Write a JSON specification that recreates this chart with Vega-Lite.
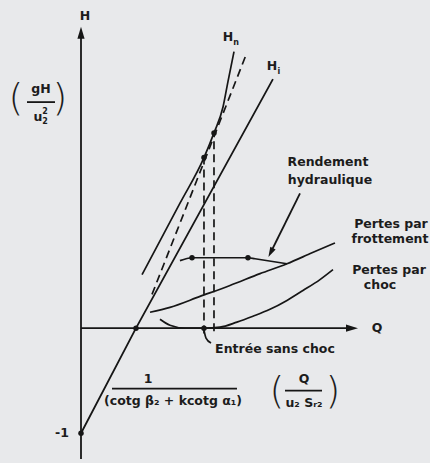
{
  "$schema": "https://vega.github.io/schema/vega-lite/v6.json",
  "width": 430,
  "height": 463,
  "autosize": {"type": "fit", "contains": "padding"},
  "padding": 0,
  "background": "#e8e9eb",
  "config": {"view": {"stroke": null}},
  "datasets": {
    "droites": [
      {"id": "axe H", "o": 1, "q": 0, "h": -1.245},
      {"id": "axe H", "o": 2, "q": 0, "h": 2.811},
      {"id": "axe Q", "o": 1, "q": 0, "h": 0},
      {"id": "axe Q", "o": 2, "q": 4.927, "h": 0},
      {"id": "Hi", "o": 1, "q": 0, "h": -1},
      {"id": "Hi", "o": 2, "q": 1, "h": 0},
      {"id": "Hi", "o": 3, "q": 3.49, "h": 2.37},
      {"id": "barre 1/(cotg)", "o": 1, "q": 0.564, "h": -0.575},
      {"id": "barre 1/(cotg)", "o": 2, "q": 2.836, "h": -0.575},
      {"id": "barre Q/uS", "o": 1, "q": 3.709, "h": -0.594},
      {"id": "barre Q/uS", "o": 2, "q": 4.382, "h": -0.594},
      {"id": "barre gH/u2", "o": 1, "q": -0.982, "h": 2.151},
      {"id": "barre gH/u2", "o": 2, "q": -0.473, "h": 2.151},
      {"id": "fleche rendement", "o": 1, "q": 3.982, "h": 1.283},
      {"id": "fleche rendement", "o": 2, "q": 3.449, "h": 0.72}
    ],
    "courbes": [
      {"id": "Hn", "o": 1, "q": 1.109, "h": 0.509},
      {"id": "Hn", "o": 2, "q": 1.436, "h": 0.83},
      {"id": "Hn", "o": 3, "q": 1.8, "h": 1.189},
      {"id": "Hn", "o": 4, "q": 2.236, "h": 1.623},
      {"id": "Hn", "o": 5, "q": 2.418, "h": 1.858},
      {"id": "Hn", "o": 6, "q": 2.582, "h": 2.104},
      {"id": "Hn", "o": 7, "q": 2.673, "h": 2.349},
      {"id": "Hn", "o": 8, "q": 2.782, "h": 2.632},
      {"id": "frottement", "o": 1, "q": 1.255, "h": 0.151},
      {"id": "frottement", "o": 2, "q": 1.618, "h": 0.198},
      {"id": "frottement", "o": 3, "q": 2.164, "h": 0.302},
      {"id": "frottement", "o": 4, "q": 2.709, "h": 0.406},
      {"id": "frottement", "o": 5, "q": 3.255, "h": 0.519},
      {"id": "frottement", "o": 6, "q": 3.745, "h": 0.613},
      {"id": "frottement", "o": 7, "q": 4.2, "h": 0.717},
      {"id": "frottement", "o": 8, "q": 4.618, "h": 0.811},
      {"id": "rendement", "o": 1, "q": 1.8, "h": 0.642},
      {"id": "rendement", "o": 2, "q": 2.018, "h": 0.67},
      {"id": "rendement", "o": 3, "q": 3.036, "h": 0.67},
      {"id": "rendement", "o": 4, "q": 3.164, "h": 0.66},
      {"id": "rendement", "o": 5, "q": 3.745, "h": 0.613},
      {"id": "choc", "o": 1, "q": 1.436, "h": 0.085},
      {"id": "choc", "o": 2, "q": 1.618, "h": 0.028},
      {"id": "choc", "o": 3, "q": 1.891, "h": 0.0},
      {"id": "choc", "o": 4, "q": 2.236, "h": 0.0},
      {"id": "choc", "o": 5, "q": 2.527, "h": 0.009},
      {"id": "choc", "o": 6, "q": 2.836, "h": 0.057},
      {"id": "choc", "o": 7, "q": 3.127, "h": 0.113},
      {"id": "choc", "o": 8, "q": 3.436, "h": 0.179},
      {"id": "choc", "o": 9, "q": 3.745, "h": 0.264},
      {"id": "choc", "o": 10, "q": 4.036, "h": 0.358},
      {"id": "choc", "o": 11, "q": 4.345, "h": 0.462},
      {"id": "choc", "o": 12, "q": 4.582, "h": 0.557},
      {"id": "renvoi entree", "o": 1, "q": 2.236, "h": -0.019},
      {"id": "renvoi entree", "o": 2, "q": 2.273, "h": -0.094},
      {"id": "renvoi entree", "o": 3, "q": 2.364, "h": -0.142}
    ],
    "tirets": [
      {"id": "tangente", "o": 1, "q": 1.291, "h": 0.321},
      {"id": "tangente", "o": 2, "q": 3.018, "h": 2.623},
      {"id": "sans choc", "o": 1, "q": 2.236, "h": -0.05},
      {"id": "sans choc", "o": 2, "q": 2.236, "h": 1.623},
      {"id": "optimum", "o": 1, "q": 2.418, "h": -0.03},
      {"id": "optimum", "o": 2, "q": 2.418, "h": 1.858}
    ],
    "points": [
      {"id": "H = -1", "q": 0, "h": -1},
      {"id": "Hi = 0", "q": 1, "h": 0},
      {"id": "entree sans choc", "q": 2.236, "h": 0},
      {"id": "Hn sans choc", "q": 2.236, "h": 1.623},
      {"id": "Hn optimum", "q": 2.418, "h": 1.858},
      {"id": "rendement a", "q": 2.018, "h": 0.67},
      {"id": "rendement b", "q": 3.036, "h": 0.67}
    ],
    "fleches": [
      {"id": "axe H", "q": 0, "h": 2.811},
      {"id": "axe Q", "q": 4.927, "h": 0},
      {"id": "rendement", "q": 3.449, "h": 0.72}
    ],
    "textes": [
      {"t": "H", "q": 0.073, "h": 2.972},
      {"t": "Q", "q": 5.382, "h": 0},
      {"t": "-1", "q": -0.345, "h": -1.0},
      {"t": "H", "q": 2.673, "h": 2.774},
      {"t": "H", "q": 3.473, "h": 2.491},
      {"t": "Rendement", "q": 4.491, "h": 1.585},
      {"t": "hydraulique", "q": 4.527, "h": 1.406},
      {"t": "Pertes par", "q": 5.636, "h": 0.991},
      {"t": "frottement", "q": 5.618, "h": 0.849},
      {"t": "Pertes par", "q": 5.6, "h": 0.557},
      {"t": "choc", "q": 5.436, "h": 0.406},
      {"t": "Entrée sans choc", "q": 3.527, "h": -0.198},
      {"t": "1", "q": 1.218, "h": -0.481},
      {"t": "(cotg β₂ + kcotg α₁)", "q": 1.673, "h": -0.698},
      {"t": "Q", "q": 4.055, "h": -0.481},
      {"t": "u₂ Sᵣ₂", "q": 4.055, "h": -0.717},
      {"t": "gH", "q": -0.727, "h": 2.274},
      {"t": "u", "q": -0.782, "h": 2.009}
    ],
    "indices": [
      {"t": "n", "q": 2.82, "h": 2.717},
      {"t": "i", "q": 3.6, "h": 2.434},
      {"t": "2", "q": -0.655, "h": 2.057},
      {"t": "2", "q": -0.655, "h": 1.962}
    ],
    "parentheses": [
      {"t": "(", "q": -1.182, "h": 2.179},
      {"t": ")", "q": -0.382, "h": 2.179},
      {"t": "(", "q": 3.564, "h": -0.604},
      {"t": ")", "q": 4.582, "h": -0.604}
    ]
  },
  "encoding": {
    "x": {"field": "q", "type": "quantitative", "scale": {"domain": [-1.4727, 6.3455], "nice": false, "zero": false}, "axis": null},
    "y": {"field": "h", "type": "quantitative", "scale": {"domain": [-1.2453, 3.1226], "nice": false, "zero": false}, "axis": null}
  },
  "layer": [
    {
      "data": {"name": "droites"},
      "mark": {"type": "line", "color": "#161616", "strokeWidth": 1.8},
      "encoding": {"detail": {"field": "id"}, "order": {"field": "o", "type": "quantitative"}}
    },
    {
      "data": {"name": "courbes"},
      "mark": {"type": "line", "color": "#161616", "strokeWidth": 1.7, "interpolate": "monotone"},
      "encoding": {"detail": {"field": "id"}, "order": {"field": "o", "type": "quantitative"}}
    },
    {
      "data": {"name": "tirets"},
      "mark": {"type": "line", "color": "#161616", "strokeWidth": 1.7, "strokeDash": [8, 5]},
      "encoding": {"detail": {"field": "id"}, "order": {"field": "o", "type": "quantitative"}}
    },
    {
      "data": {"name": "points"},
      "mark": {"type": "point", "filled": true, "color": "#161616", "size": 30, "opacity": 1}
    },
    {
      "data": {"name": "fleches"},
      "transform": [{"filter": "datum.id === 'axe H'"}],
      "mark": {"type": "point", "filled": true, "color": "#161616", "opacity": 1, "shape": "M0,-1L0.6,1L-0.6,1Z", "size": 144, "angle": 0}
    },
    {
      "data": {"name": "fleches"},
      "transform": [{"filter": "datum.id === 'axe Q'"}],
      "mark": {"type": "point", "filled": true, "color": "#161616", "opacity": 1, "shape": "M0,-1L0.6,1L-0.6,1Z", "size": 144, "angle": 90}
    },
    {
      "data": {"name": "fleches"},
      "transform": [{"filter": "datum.id === 'rendement'"}],
      "mark": {"type": "point", "filled": true, "color": "#161616", "opacity": 1, "shape": "M0,-1L0.6,1L-0.6,1Z", "size": 100, "angle": 207}
    },
    {
      "data": {"name": "textes"},
      "mark": {"type": "text", "font": "DejaVu Sans", "fontWeight": "bold", "fontSize": 12.5, "color": "#1c1c1c", "align": "center", "baseline": "middle"},
      "encoding": {"text": {"field": "t"}}
    },
    {
      "data": {"name": "indices"},
      "mark": {"type": "text", "font": "DejaVu Sans", "fontWeight": "bold", "fontSize": 8, "color": "#1c1c1c", "align": "center", "baseline": "middle"},
      "encoding": {"text": {"field": "t"}}
    },
    {
      "data": {"name": "parentheses"},
      "mark": {"type": "text", "font": "DejaVu Sans", "fontWeight": 300, "fontSize": 38, "color": "#1c1c1c", "align": "center", "baseline": "middle"},
      "encoding": {"text": {"field": "t"}}
    }
  ]
}
